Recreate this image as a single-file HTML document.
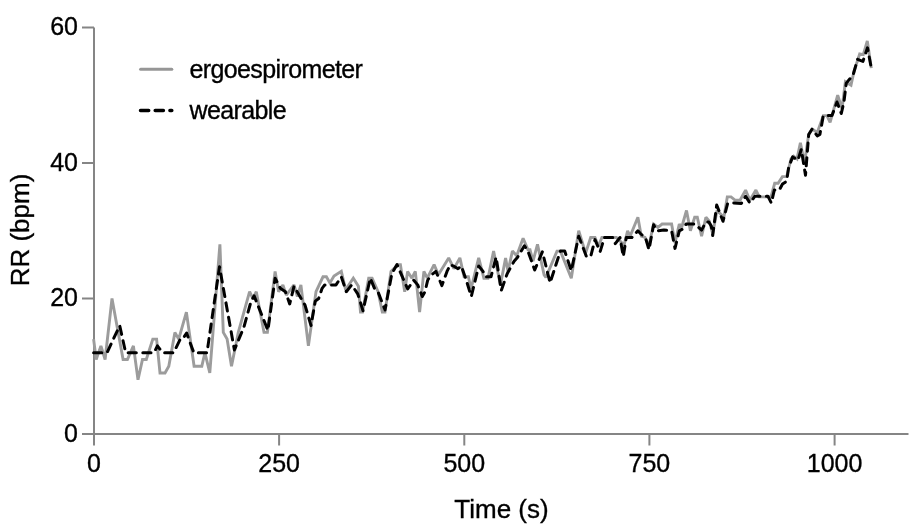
<!DOCTYPE html>
<html><head><meta charset="utf-8"><style>
html,body{margin:0;padding:0;background:#fff;width:918px;height:525px;overflow:hidden}
svg{display:block;will-change:transform}
text{font-family:"Liberation Sans",sans-serif;font-size:25px;fill:#000;stroke:#000;stroke-width:0.35px}
</style></head><body>
<svg width="918" height="525" viewBox="0 0 918 525">
<g stroke="#858585" stroke-width="2" fill="none">
<path d="M94 27.5V434H908.5"/>
<path d="M82 27.5H94M82 163H94M82 298.5H94M82 434H94"/>
<path d="M94 434V445.5M279.1 434V445.5M464.3 434V445.5M649.4 434V445.5M834.6 434V445.5"/>
</g>
<g text-anchor="end">
<text x="78" y="35.3">60</text>
<text x="78" y="170.8">40</text>
<text x="78" y="306.3">20</text>
<text x="78" y="441.8">0</text>
</g>
<g text-anchor="middle">
<text x="94" y="472">0</text>
<text x="279.1" y="472">250</text>
<text x="464.3" y="472">500</text>
<text x="649.4" y="472">750</text>
<text x="834.6" y="472">1000</text>
<text x="501.5" y="517.9" style="font-size:26px">Time (s)</text>
<text transform="translate(28.8 230) rotate(-90)" style="font-size:26px">RR (bpm)</text>
</g>
<path d="M93.6 339.1 L96.2 359.5 L100.9 345.9 L105.1 359.5 L112.0 298.5 L123.1 359.5 L127.4 359.5 L133.4 345.9 L138.0 379.8 L142.5 359.5 L146.3 359.5 L152.8 339.1 L156.6 339.1 L160.0 373.0 L165.0 373.0 L168.8 366.2 L174.9 332.4 L178.7 339.1 L186.4 312.1 L194.1 366.2 L201.8 366.2 L204.9 352.7 L209.8 373.0 L219.9 244.3 L223.3 332.4 L227.1 339.1 L231.5 366.2 L238.3 332.4 L249.6 291.7 L252.9 298.5 L256.3 291.7 L264.0 332.4 L267.4 332.4 L275.1 271.4 L278.6 291.7 L282.9 284.9 L286.3 295.1 L294.0 284.9 L297.4 296.5 L300.9 284.9 L308.4 345.9 L316.0 291.7 L323.0 276.8 L326.4 276.8 L329.9 282.9 L334.0 276.1 L341.3 271.4 L345.6 289.7 L353.3 278.2 L358.4 286.3 L360.5 312.1 L362.5 312.1 L368.7 278.2 L372.1 278.2 L378.1 291.7 L382.3 312.1 L385.0 312.1 L391.0 271.4 L397.9 264.6 L400.4 264.6 L404.7 291.7 L407.6 271.4 L411.9 278.2 L415.3 271.4 L419.6 312.1 L423.9 271.4 L427.3 278.2 L434.1 264.6 L438.4 274.8 L448.7 257.9 L453.9 268.7 L459.9 257.9 L464.1 276.8 L468.4 276.8 L471.0 289.0 L478.7 257.9 L483.9 278.2 L488.0 278.2 L493.6 251.1 L500.4 284.9 L505.6 257.9 L508.0 271.4 L512.4 251.1 L516.7 255.8 L523.1 238.2 L528.0 249.7 L530.0 249.7 L533.0 261.2 L537.5 244.3 L544.1 274.8 L545.9 277.5 L557.0 251.1 L560.4 251.1 L571.3 278.2 L578.7 230.8 L585.6 253.1 L590.7 237.5 L595.0 237.5 L598.4 246.3 L601.9 237.5 L616.4 237.5 L624.1 245.0 L627.6 230.8 L630.1 236.2 L637.9 217.2 L641.3 236.2 L645.0 237.5 L649.0 245.7 L653.6 224.0 L657.9 227.4 L662.1 224.0 L671.6 224.0 L675.0 242.9 L679.3 224.0 L681.5 228.0 L686.5 210.4 L690.4 230.8 L694.7 217.2 L697.3 217.2 L701.6 236.2 L705.9 217.2 L709.3 221.3 L712.7 233.5 L717.0 210.4 L723.9 217.2 L727.3 196.9 L731.0 196.9 L735.3 200.3 L740.0 200.3 L745.6 190.1 L749.9 200.3 L755.9 190.1 L759.3 196.9 L768.7 196.9 L771.0 196.9 L774.7 183.3 L778.1 183.3 L782.4 176.6 L786.7 176.6 L791.0 158.9 L793.6 156.2 L797.0 158.9 L800.4 142.7 L804.5 163.0 L808.7 134.5 L812.1 129.1 L817.3 132.5 L823.3 115.6 L827.0 115.6 L830.1 122.3 L837.7 95.2 L842.0 108.8 L845.4 81.7 L851.0 85.1 L854.0 71.5 L859.7 53.9 L863.3 54.6 L867.3 41.0 L871.3 68.1" fill="none" stroke="#9c9c9c" stroke-width="2.9" stroke-linejoin="miter" stroke-miterlimit="2"/>
<path d="M93.6 352.7 L107.0 352.7 L119.7 325.6 L125.7 352.7 L154.0 352.7 L157.4 345.9 L162.6 352.7 L173.6 352.7 L180.3 339.1 L183.0 338.5 L186.6 333.1 L193.8 352.7 L207.0 352.7 L219.5 266.7 L234.4 350.0 L243.9 327.0 L250.7 302.6 L254.1 295.8 L267.9 330.3 L275.1 278.2 L280.3 288.3 L285.4 291.7 L289.7 303.9 L294.0 286.3 L299.1 295.1 L305.1 305.3 L311.0 325.6 L315.3 301.2 L318.7 298.5 L322.1 288.3 L324.7 284.9 L331.9 284.9 L336.0 284.9 L341.3 276.8 L346.3 291.7 L351.7 284.9 L357.7 293.8 L363.0 310.7 L370.3 278.2 L375.0 289.7 L378.5 293.1 L385.0 310.0 L391.9 273.4 L397.0 264.6 L407.7 289.0 L413.7 280.2 L417.7 284.9 L422.3 296.5 L425.0 291.7 L427.7 280.2 L430.7 275.5 L435.9 271.4 L441.9 285.6 L447.0 271.4 L450.4 264.6 L454.7 266.7 L458.0 268.7 L461.3 266.0 L466.7 281.6 L471.3 296.5 L478.7 266.0 L483.0 271.4 L485.6 276.8 L491.0 276.8 L496.1 257.2 L501.3 290.4 L507.3 273.4 L514.1 261.2 L517.6 257.2 L524.4 245.7 L527.9 251.1 L534.7 270.0 L542.4 251.8 L550.1 282.9 L555.3 266.7 L560.4 251.1 L564.7 251.1 L571.3 270.7 L578.7 236.2 L586.4 256.5 L590.7 256.5 L595.0 239.6 L600.1 251.8 L604.4 237.5 L613.0 237.5 L615.3 243.6 L620.0 237.5 L623.3 256.5 L626.3 237.5 L631.9 237.5 L637.9 230.8 L640.4 233.5 L645.6 238.2 L649.0 249.7 L653.6 224.7 L657.0 230.8 L663.9 230.1 L671.6 230.8 L675.0 248.4 L679.3 230.8 L683.6 228.7 L686.1 224.0 L694.7 224.0 L701.6 230.1 L705.9 221.9 L708.7 221.9 L711.3 226.0 L712.7 235.5 L716.7 205.0 L723.0 221.3 L727.6 203.6 L733.6 203.0 L741.3 203.6 L745.6 196.2 L749.9 203.0 L755.0 196.2 L767.9 196.2 L771.3 203.0 L774.3 190.1 L779.3 190.1 L782.5 184.0 L786.6 181.3 L788.7 167.1 L792.7 156.9 L797.9 160.3 L801.3 149.4 L805.5 175.2 L808.7 134.5 L812.1 129.1 L817.3 135.9 L819.9 134.5 L823.3 115.6 L832.0 115.6 L837.0 102.0 L841.3 113.5 L843.9 102.0 L846.3 83.1 L853.1 74.9 L857.6 59.3 L862.9 61.4 L867.5 47.8 L871.3 68.1" fill="none" stroke="#000" stroke-width="3" stroke-dasharray="8.2 6.5" stroke-linecap="round" stroke-linejoin="round"/>
<path d="M140.6 69.3H171.8" stroke="#969696" stroke-width="3" stroke-linecap="round"/>
<path d="M140.5 110.5H171.8" stroke="#000" stroke-width="3.5" stroke-dasharray="8.2 6.5" stroke-linecap="round"/>
<text x="189.5" y="77.6" letter-spacing="-0.62">ergoespirometer</text>
<text x="189.5" y="118.8" letter-spacing="-0.62">wearable</text>
</svg>
</body></html>
